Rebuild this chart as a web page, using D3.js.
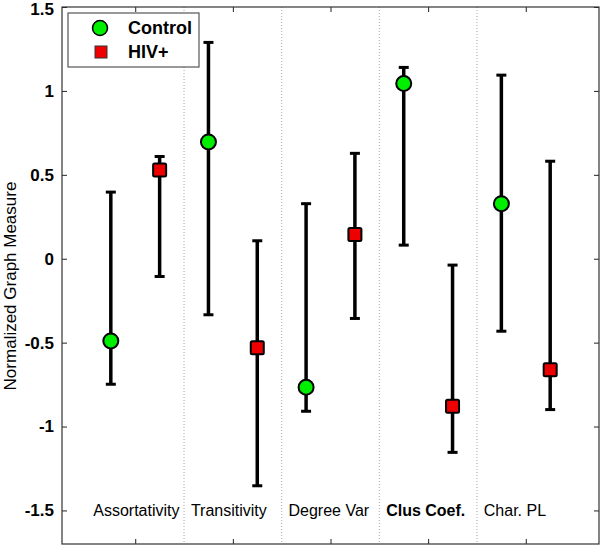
<!DOCTYPE html>
<html>
<head>
<meta charset="utf-8">
<script src="https://cdn.jsdelivr.net/npm/d3@7"></script>
<style>
  body { margin: 0; background: #fff; }
  svg { font-family: Arial, "Liberation Sans", sans-serif; }
</style>
</head>
<body>
<div id="vis"></div>
<script>
const CATEGORIES = ["Assortativity", "Transitivity", "Degree Var", "Clus Coef.", "Char. PL"];
const BOLD_CATEGORY = "Clus Coef.";

const CONTROL_MEAN = [-0.49, 0.696, -0.766, 1.044, 0.328];
const CONTROL_LOW = [-0.748, -0.334, -0.909, 0.081, -0.432];
const CONTROL_HIGH = [0.397, 1.289, 0.328, 1.14, 1.094];

const HIV_MEAN = [0.529, -0.531, 0.145, -0.879, -0.662];
const HIV_LOW = [-0.106, -1.353, -0.356, -1.154, -0.899];
const HIV_HIGH = [0.609, 0.107, 0.628, -0.038, 0.581];

const Y_TICKS = [-1.5, -1, -0.5, 0, 0.5, 1, 1.5];
const X_TICKS = [1, 2, 3, 4, 5];

const FRAME_WIDTH = 600;
const FRAME_HEIGHT = 545;
const BOX = { left: 62, right: 599, top: 7, bottom: 544 };

const SVG = d3
  .select("#vis")
  .append("svg")
  .attr("width", FRAME_WIDTH)
  .attr("height", FRAME_HEIGHT);

const X_SCALE = d3.scaleLinear().domain([0.25, 5.75]).range([BOX.left, BOX.right]);
const Y_SCALE = d3.scaleLinear().domain([-1.7, 1.5]).range([BOX.bottom, BOX.top]);

// dotted separators between groups
SVG.selectAll(".sep")
  .data(X_TICKS.slice(0, 4))
  .enter()
  .append("line")
  .attr("x1", (d) => X_SCALE(d + 0.5))
  .attr("x2", (d) => X_SCALE(d + 0.5))
  .attr("y1", BOX.top)
  .attr("y2", BOX.bottom)
  .attr("stroke", "#aaa")
  .attr("stroke-width", 1)
  .attr("stroke-dasharray", "1,2");

// axes with inward ticks
function styleAxis(g) {
  g.select(".domain").remove();
  g.selectAll(".tick line").attr("stroke", "#222").attr("stroke-width", 1);
}

SVG.append("g")
  .attr("transform", `translate(${BOX.left},0)`)
  .call(d3.axisLeft(Y_SCALE).tickValues(Y_TICKS).tickSizeInner(-5).tickSizeOuter(0).tickPadding(8).tickFormat((d) => d))
  .call(styleAxis)
  .selectAll("text")
  .attr("font-size", 17)
  .attr("font-weight", "bold")
  .attr("fill", "#000")
  .attr("dy", (d) => (d === 1.5 ? "0.42em" : "0.32em"));

SVG.append("g")
  .attr("transform", `translate(${BOX.right},0)`)
  .call(d3.axisRight(Y_SCALE).tickValues(Y_TICKS).tickSizeInner(-5).tickSizeOuter(0).tickFormat(""))
  .call(styleAxis);

SVG.append("g")
  .attr("transform", `translate(0,${BOX.bottom})`)
  .call(d3.axisBottom(X_SCALE).tickValues(X_TICKS).tickSizeInner(-5).tickSizeOuter(0).tickFormat(""))
  .call(styleAxis);

SVG.append("g")
  .attr("transform", `translate(0,${BOX.top})`)
  .call(d3.axisTop(X_SCALE).tickValues(X_TICKS).tickSizeInner(-5).tickSizeOuter(0).tickFormat(""))
  .call(styleAxis);

SVG.append("rect")
  .attr("x", BOX.left)
  .attr("y", BOX.top)
  .attr("width", BOX.right - BOX.left)
  .attr("height", BOX.bottom - BOX.top)
  .attr("fill", "none")
  .attr("stroke", "#333")
  .attr("stroke-width", 1.2);

// y label
SVG.append("text")
  .attr("transform", "translate(16,286) rotate(-90)")
  .attr("text-anchor", "middle")
  .attr("font-size", 17)
  .attr("fill", "#000")
  .text("Normalized Graph Measure");

// category labels
SVG.selectAll(".cat")
  .data(CATEGORIES)
  .enter()
  .append("text")
  .attr("x", (d, i) => X_SCALE(i + 1 - 0.43))
  .attr("y", Y_SCALE(-1.5))
  .attr("dy", "0.35em")
  .attr("font-size", 16)
  .attr("font-weight", (d) => (d === BOLD_CATEGORY ? "bold" : "normal"))
  .attr("fill", "#000")
  .text((d) => d);

// error bars and markers
const SERIES = [
  { name: "Control", mean: CONTROL_MEAN, low: CONTROL_LOW, high: CONTROL_HIGH, offset: -0.25, shape: "circle", color: "#00ee00" },
  { name: "HIV+", mean: HIV_MEAN, low: HIV_LOW, high: HIV_HIGH, offset: 0.25, shape: "square", color: "#ee0000" },
];

SERIES.forEach((s) => {
  const rows = CATEGORIES.map((c, i) => ({ x: i + 1 + s.offset, m: s.mean[i], lo: s.low[i], hi: s.high[i] }));
  const g = SVG.append("g");

  g.selectAll(".bar")
    .data(rows)
    .enter()
    .append("line")
    .attr("x1", (d) => X_SCALE(d.x))
    .attr("x2", (d) => X_SCALE(d.x))
    .attr("y1", (d) => Y_SCALE(d.lo))
    .attr("y2", (d) => Y_SCALE(d.hi))
    .attr("stroke", "#000")
    .attr("stroke-width", 3.5);

  ["lo", "hi"].forEach((k) => {
    g.selectAll(".cap-" + k)
      .data(rows)
      .enter()
      .append("line")
      .attr("x1", (d) => X_SCALE(d.x) - 5)
      .attr("x2", (d) => X_SCALE(d.x) + 5)
      .attr("y1", (d) => Y_SCALE(d[k]))
      .attr("y2", (d) => Y_SCALE(d[k]))
      .attr("stroke", "#000")
      .attr("stroke-width", 3);
  });

  if (s.shape === "circle") {
    g.selectAll(".mk")
      .data(rows)
      .enter()
      .append("circle")
      .attr("cx", (d) => X_SCALE(d.x))
      .attr("cy", (d) => Y_SCALE(d.m))
      .attr("r", 7.5)
      .attr("fill", s.color)
      .attr("stroke", "#000")
      .attr("stroke-width", 2);
  } else {
    g.selectAll(".mk")
      .data(rows)
      .enter()
      .append("rect")
      .attr("x", (d) => X_SCALE(d.x) - 6.5)
      .attr("y", (d) => Y_SCALE(d.m) - 6.5)
      .attr("width", 13)
      .attr("height", 13)
      .attr("rx", 1.5)
      .attr("fill", s.color)
      .attr("stroke", "#000")
      .attr("stroke-width", 2);
  }
});

// legend
const LEGEND = SVG.append("g");
LEGEND.append("rect")
  .attr("x", 68)
  .attr("y", 13)
  .attr("width", 131)
  .attr("height", 54)
  .attr("fill", "#fff")
  .attr("stroke", "#555")
  .attr("stroke-width", 1.2);

LEGEND.append("circle")
  .attr("cx", 100)
  .attr("cy", 28)
  .attr("r", 7.5)
  .attr("fill", "#00ee00")
  .attr("stroke", "#000")
  .attr("stroke-width", 1.5);

LEGEND.append("rect")
  .attr("x", 95)
  .attr("y", 46)
  .attr("width", 12)
  .attr("height", 12)
  .attr("fill", "#ee0000")
  .attr("stroke", "#333")
  .attr("stroke-width", 1);

LEGEND.selectAll(".lt")
  .data(SERIES)
  .enter()
  .append("text")
  .attr("x", 128)
  .attr("y", (d, i) => 28 + i * 24)
  .attr("dy", "0.35em")
  .attr("font-size", 18)
  .attr("font-weight", "bold")
  .attr("fill", "#000")
  .text((d) => d.name);
</script>
</body>
</html>
